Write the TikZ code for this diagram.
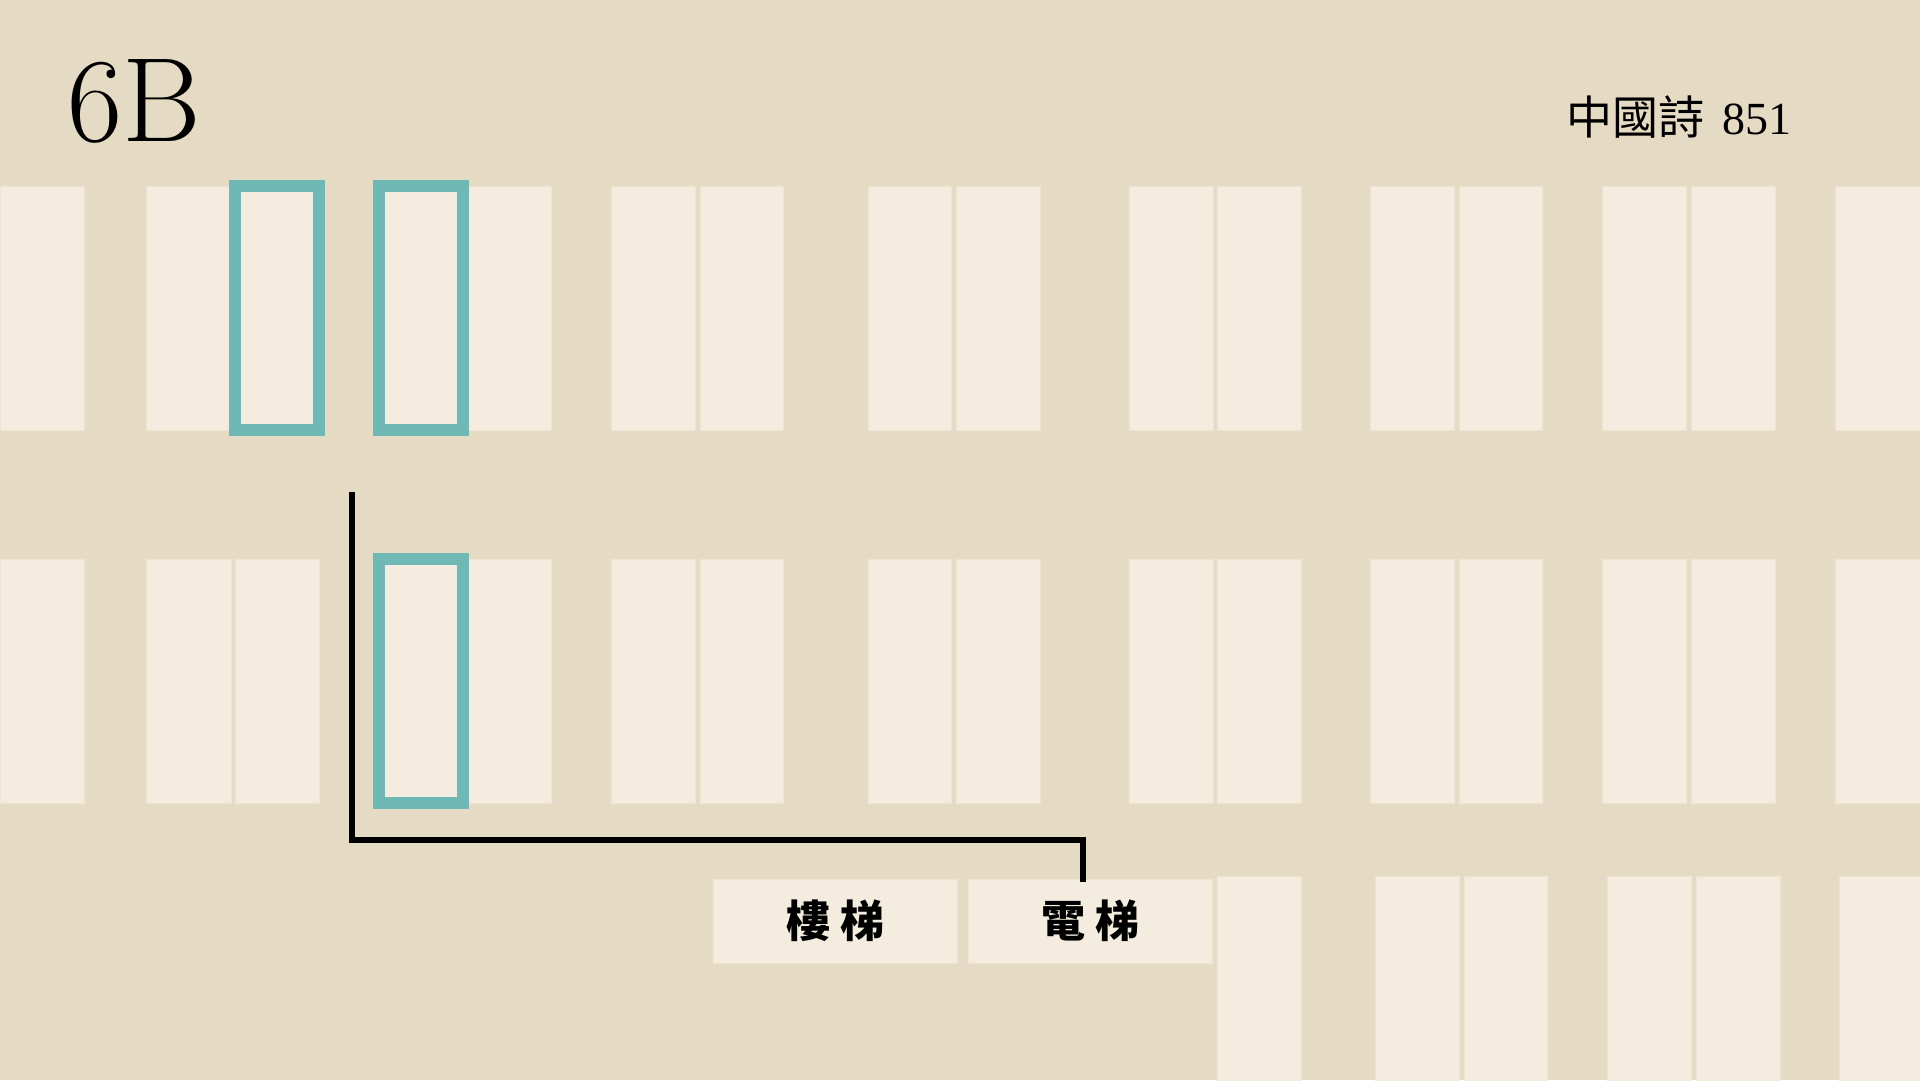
\documentclass[tikz,border=0pt]{standalone}
\usepackage{fontspec}
\newfontfamily\cjk{Noto Sans CJK TC}
\newfontfamily\serifdig{Liberation Serif}
\definecolor{bgc}{HTML}{E5DBC4}
\definecolor{cellc}{HTML}{F3ECDF}
\definecolor{celledge}{HTML}{EDE4D2}
\definecolor{tealc}{HTML}{6FB8B6}
\begin{document}
\begin{tikzpicture}[x=1pt,y=-1pt,
  cellbox/.style={fill=cellc, draw=celledge, line width=0.8pt},
  hilite/.style={draw=tealc, line width=12pt},
  link/.style={draw=black, line width=6pt, line cap=rect},
  lbox/.style={fill=cellc, draw=celledge, line width=0.8pt, inner sep=0pt,
    minimum width=244pt, minimum height=83.5pt, anchor=north west,
    font=\cjk\bfseries\fontsize{44}{44}\selectfont}]
\useasboundingbox (0,0) rectangle (1920,1080);
\fill[bgc] (0,0) rectangle (1920,1080);
% rows 1 and 2
\foreach \x/\w in {0/84.7, 146.7/84.3, 235/84, 379/84, 467.7/83.3, 611.7/83.3, 700/83.7, 868/83.7, 956/84, 1129/84, 1217.7/83.3, 1370/84, 1459/83.7, 1602.7/84, 1691/84, 1835/85}{
  \path[cellbox] (\x,186) rectangle ++(\w,244);
  \path[cellbox] (\x,559) rectangle ++(\w,244);
}
% row 3
\foreach \x/\w in {1217.7/83.3, 1375/84, 1464/83.7, 1607.7/84, 1696/84, 1839/85}{
  \path[cellbox] (\x,876.3) rectangle ++(\w,210);
}
% highlighted cells
\draw[hilite] (235,186) rectangle (319,430);
\draw[hilite] (379,186) rectangle (463,430);
\draw[hilite] (379,559) rectangle (463,803);
% labels
\node[lbox] (stairs) at (712.7,879) {樓\hspace{10pt}梯};
\node[lbox] (elev) at (967.7,879) {電\hspace{10pt}梯};
% connector
\coordinate (start) at (352,495);
\coordinate (bend) at (1083,840);
\draw[link] (start) |- (bend) -- (bend |- elev.north);
% texts
\node[anchor=base west, inner sep=0pt, font=\fontsize{120}{120}\selectfont] (title) at (67,141) {6B};
\node[anchor=base west, inner sep=0pt] (code) at (1566,134) {\cjk\fontsize{46}{46}\selectfont 中國詩\hspace{18pt}\serifdig 851};
\end{tikzpicture}
\end{document}
